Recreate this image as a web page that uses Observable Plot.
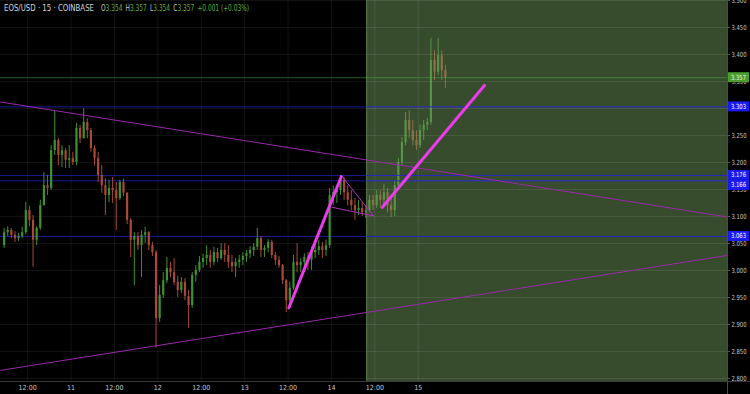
<!DOCTYPE html>
<html><head><meta charset="utf-8">
<script src="https://cdn.jsdelivr.net/npm/d3@7"></script>
<script src="https://cdn.jsdelivr.net/npm/@observablehq/plot@0.6"></script>
<style>
html,body{margin:0;padding:0;background:#000;}
#chart{position:relative;width:750px;height:394px;overflow:hidden;}
</style></head><body><div id="chart"></div>
<script>
// ---- header text ----
const symbolText = "EOS/USD · 15 · COINBASE";
const legendKeys = ["O", "H", "L", "C"];
const legendVals = ["3.354", "3.357", "3.354", "3.357"];
const legendChange = "+0.001 (+0.03%)";

// ---- candles (1 per hour, starting at firstHour after startDate) ----
const startDate = "2019-10-10T00:00:00Z";
const firstHour = 5;
const open = [
3.046,3.070,3.074,3.065,3.059,3.063,3.070,3.111,3.093,3.056,
3.078,3.120,3.157,3.152,3.222,3.241,3.213,3.222,3.204,3.207,
3.200,3.263,3.244,3.274,3.259,3.226,3.207,3.176,3.157,3.139,
3.152,3.148,3.133,3.163,3.143,3.093,3.056,3.063,3.046,3.065,
3.070,3.046,3.033,2.911,2.954,2.981,3.004,2.996,2.978,2.963,
2.978,2.952,2.935,2.991,3.000,3.015,3.022,3.028,3.015,3.033,
3.022,3.037,3.028,3.015,3.007,3.015,3.019,3.026,3.031,3.037,
3.043,3.059,3.037,3.041,3.052,3.028,3.019,3.009,2.981,2.944,
2.967,3.015,3.009,3.015,3.024,3.019,3.033,3.037,3.044,3.037,
3.046,3.139,3.144,3.148,3.167,3.144,3.130,3.120,3.111,3.115,
3.107,3.111,3.130,3.120,3.139,3.130,3.144,3.120,3.111,3.157,
3.200,3.237,3.278,3.259,3.241,3.231,3.259,3.269,3.274,3.389,
3.367,3.398,3.370];
const high = [
3.078,3.081,3.078,3.072,3.069,3.080,3.126,3.119,3.102,3.081,
3.130,3.181,3.176,3.231,3.296,3.244,3.231,3.226,3.231,3.219,
3.272,3.269,3.300,3.281,3.263,3.231,3.219,3.194,3.170,3.167,
3.172,3.163,3.167,3.169,3.144,3.096,3.070,3.070,3.074,3.080,
3.072,3.052,3.037,2.972,2.996,3.024,3.015,3.022,2.989,2.987,
2.985,2.963,2.996,3.009,3.026,3.030,3.046,3.037,3.043,3.041,
3.050,3.050,3.046,3.028,3.022,3.028,3.033,3.037,3.044,3.050,
3.078,3.063,3.046,3.057,3.056,3.033,3.026,3.011,2.983,2.978,
3.028,3.050,3.022,3.031,3.033,3.043,3.052,3.056,3.052,3.056,
3.152,3.156,3.156,3.176,3.172,3.157,3.148,3.133,3.130,3.126,
3.120,3.139,3.139,3.148,3.148,3.159,3.152,3.133,3.167,3.207,
3.246,3.293,3.296,3.278,3.259,3.270,3.278,3.281,3.430,3.407,
3.430,3.407,3.380];
const low = [
3.041,3.063,3.059,3.052,3.054,3.059,3.067,3.081,3.006,3.046,
3.074,3.120,3.139,3.148,3.213,3.194,3.191,3.189,3.189,3.194,
3.194,3.235,3.244,3.244,3.219,3.194,3.163,3.143,3.102,3.126,
3.124,3.074,3.130,3.137,3.085,3.024,2.972,3.037,2.987,3.050,
3.037,3.026,2.856,2.904,2.948,2.976,2.987,2.972,2.950,2.957,
2.944,2.893,2.930,2.978,2.996,3.004,3.009,3.004,3.009,3.015,
3.019,3.015,3.004,2.996,2.987,3.004,3.009,3.015,3.022,3.026,
3.037,3.024,3.024,3.033,3.022,3.009,3.004,2.974,2.922,2.935,
2.963,2.996,2.996,3.004,3.000,3.000,3.022,3.028,3.022,3.026,
3.041,3.120,3.124,3.139,3.130,3.120,3.111,3.093,3.102,3.100,
3.096,3.107,3.111,3.115,3.115,3.119,3.107,3.098,3.100,3.152,
3.194,3.231,3.244,3.231,3.222,3.226,3.241,3.259,3.269,3.352,
3.361,3.352,3.337];
const close = [
3.070,3.074,3.065,3.059,3.063,3.070,3.111,3.093,3.056,3.078,
3.120,3.157,3.152,3.222,3.241,3.213,3.222,3.204,3.207,3.200,
3.263,3.244,3.274,3.259,3.226,3.207,3.176,3.157,3.139,3.152,
3.148,3.133,3.163,3.143,3.093,3.056,3.063,3.046,3.065,3.070,
3.046,3.033,2.911,2.954,2.981,3.004,2.996,2.978,2.963,2.978,
2.952,2.935,2.991,3.000,3.015,3.022,3.028,3.015,3.033,3.022,
3.037,3.028,3.015,3.007,3.015,3.019,3.026,3.031,3.037,3.043,
3.059,3.037,3.041,3.052,3.028,3.019,3.009,2.981,2.944,2.967,
3.015,3.009,3.015,3.024,3.019,3.033,3.037,3.044,3.037,3.046,
3.139,3.144,3.148,3.167,3.144,3.130,3.120,3.111,3.115,3.107,
3.111,3.130,3.120,3.139,3.130,3.144,3.120,3.111,3.157,3.200,
3.237,3.278,3.259,3.241,3.231,3.259,3.269,3.274,3.389,3.367,
3.398,3.370,3.357];

// ---- axes ----
const xTickHours = [12, 24, 36, 48, 60, 72, 84, 96, 108, 120];
const xTickLabels = ["12:00", "11", "12:00", "12", "12:00", "13", "12:00", "14", "12:00", "15"];
const yTicks = [2.80, 2.85, 2.90, 2.95, 3.00, 3.05, 3.10, 3.15, 3.20, 3.25, 3.30, 3.35, 3.40, 3.45, 3.50];
const viewHours = [4.5, 205.5];
const viewPrices = [2.7944, 3.5];

// ---- drawings ----
const levelPrices = [3.303, 3.176, 3.166, 3.063];
const lastPrice = 3.357;
const shadeHours = [105.75, 205.5];
const upperTrendHours = [4.5, 205.5], upperTrendPrices = [3.312, 3.099];
const lowerTrendHours = [4.5, 205.5], lowerTrendPrices = [2.815, 3.028];
const legAHours = [84.24, 98.73], legAPrices = [2.931, 3.174];
const legBHours = [110.06, 138.35], legBPrices = [3.117, 3.343];
const pennantTopHours = [98.95, 107.66], pennantTopPrices = [3.174, 3.101];
const pennantBotHours = [96.24, 107.66], pennantBotPrices = [3.117, 3.101];

// ---- build ----
const t0 = new Date(startDate);
const hd = h => new Date(+t0 + h * 3600e3);
const candles = open.map((o, i) => ({
  date: hd(firstHour + i + 0.5), open: o, high: high[i], low: low[i], close: close[i]
}));
const pts = (hs, ps) => hs.map((h, i) => ({date: hd(h), price: ps[i]}));
const tickDates = xTickHours.map(hd);
const tickLabelMap = new Map(xTickHours.map((h, i) => [+hd(h), xTickLabels[i]]));
const UP = "#3f9030", DOWN = "#a84a36";
const col = d => d.close >= d.open ? UP : DOWN;
const FONT = "'Liberation Sans Narrow','DejaVu Sans Condensed','Liberation Sans',sans-serif";

const chart = Plot.plot({
  width: 750, height: 394,
  marginLeft: 0, marginRight: 23, marginTop: 0, marginBottom: 13,
  style: {background: "#000", color: "#c4c6cc", fontFamily: FONT, fontSize: "7px"},
  x: {type: "utc", domain: viewHours.map(hd)},
  y: {domain: viewPrices},
  marks: [
    Plot.ruleY(yTicks, {stroke: "#ffffff", strokeOpacity: 0.07}),
    Plot.ruleX(tickDates, {stroke: "#ffffff", strokeOpacity: 0.07}),
    Plot.ruleY(levelPrices, {stroke: "#1c1caa", strokeOpacity: 0.9}),
    Plot.ruleX(candles, {x: "date", y1: "low", y2: "high", stroke: col, strokeWidth: 1}),
    Plot.ruleX(candles, {x: "date", y1: "open", y2: "close", stroke: col, strokeWidth: 2.2}),
    Plot.rect([0], {x1: () => hd(shadeHours[0]), x2: () => hd(shadeHours[1]),
      y1: () => viewPrices[0], y2: () => viewPrices[1], fill: "#6e965a", fillOpacity: 0.5}),
    Plot.ruleX([hd(shadeHours[0])], {stroke: "#5a7a48", strokeWidth: 1}),
    Plot.ruleY(yTicks, {x1: () => hd(shadeHours[0]), x2: () => hd(shadeHours[1]), stroke: "#ffffff", strokeOpacity: 0.05}),
    Plot.ruleX(tickDates.filter(d => d >= hd(shadeHours[0])), {stroke: "#ffffff", strokeOpacity: 0.05}),
    Plot.ruleY(levelPrices, {x1: () => hd(shadeHours[0]), x2: () => hd(shadeHours[1]), stroke: "#2222c0", strokeOpacity: 0.9}),
    Plot.ruleY([lastPrice], {stroke: "#4caf50", strokeOpacity: 0.5}),
    Plot.line(pts(upperTrendHours, upperTrendPrices), {x: "date", y: "price", stroke: "#9a28ac", strokeWidth: 1, clip: true}),
    Plot.line(pts(lowerTrendHours, lowerTrendPrices), {x: "date", y: "price", stroke: "#9a28ac", strokeWidth: 1, clip: true}),
    Plot.line(pts(pennantTopHours, pennantTopPrices), {x: "date", y: "price", stroke: "#b032c0", strokeWidth: 1}),
    Plot.line(pts(pennantBotHours, pennantBotPrices), {x: "date", y: "price", stroke: "#b032c0", strokeWidth: 1}),
    Plot.line(pts(legAHours, legAPrices), {x: "date", y: "price", stroke: "#ea3cea", strokeWidth: 3}),
    Plot.line(pts(legBHours, legBPrices), {x: "date", y: "price", stroke: "#ea3cea", strokeWidth: 3}),
    Plot.axisX({ticks: tickDates, tickFormat: d => tickLabelMap.get(+d), tickSize: 0, tickPadding: 4, label: null}),
    Plot.axisY({anchor: "right", ticks: yTicks, tickFormat: d3.format(".3f"), tickSize: 2, tickPadding: 2, label: null, stroke: "#555"})
  ]
});
document.getElementById("chart").appendChild(chart);

const svg = d3.select(chart);
const ys = chart.scale("y");
const W = 750, H = 394, RIGHT = 727, BOTTOM = 381;
// fit right-axis labels into the scale strip
svg.selectAll("g[aria-label='y-axis tick label'] text").attr("textLength", 15).attr("lengthAdjust", "spacingAndGlyphs");
// axis borders
svg.append("line").attr("x1", RIGHT + 0.5).attr("x2", RIGHT + 0.5).attr("y1", 0).attr("y2", H).attr("stroke", "#4a4a4a");
svg.append("line").attr("x1", 0).attr("x2", W).attr("y1", BOTTOM + 0.5).attr("y2", BOTTOM + 0.5).attr("stroke", "#3a3a3a");

// price boxes on right scale
const boxes = [{p: lastPrice, fill: "#4a9e2e", text: "#e8f5e0"}]
  .concat(levelPrices.map(p => ({p, fill: "#1a1af0", text: "#ffffff"})))
  .map(b => ({...b, y: ys.apply(b.p)}))
  .sort((a, b) => a.y - b.y);
for (let i = 1; i < boxes.length; i++) if (boxes[i].y - boxes[i - 1].y < 10) boxes[i].y = boxes[i - 1].y + 10;
const bg = svg.append("g").attr("font-family", FONT).attr("font-size", "7px").attr("text-anchor", "start");
boxes.forEach(b => {
  bg.append("rect").attr("x", RIGHT + 1).attr("y", b.y - 5).attr("width", W - RIGHT - 2).attr("height", 10).attr("fill", b.fill);
  bg.append("text").attr("x", RIGHT + 4).attr("y", b.y).attr("dy", "0.35em").attr("fill", b.text)
    .attr("textLength", 15).attr("lengthAdjust", "spacingAndGlyphs").text(d3.format(".3f")(b.p));
});

// header
svg.append("text").attr("x", 4).attr("y", 11).attr("text-anchor", "start")
  .attr("font-family", FONT).attr("font-size", "9px").attr("fill", "#d1d4dc")
  .attr("textLength", 90).attr("lengthAdjust", "spacingAndGlyphs").text(symbolText);
const leg = svg.append("text").attr("x", 101).attr("y", 11).attr("text-anchor", "start")
  .attr("font-family", FONT).attr("font-size", "8px")
  .attr("textLength", 148).attr("lengthAdjust", "spacingAndGlyphs");
legendKeys.forEach((k, i) => {
  leg.append("tspan").attr("fill", "#c4c6cc").attr("dx", i ? 4 : 0).text(k);
  leg.append("tspan").attr("fill", "#5fae3c").text(legendVals[i]);
});
leg.append("tspan").attr("fill", "#5fae3c").attr("dx", 4).text(legendChange);
</script></body></html>
